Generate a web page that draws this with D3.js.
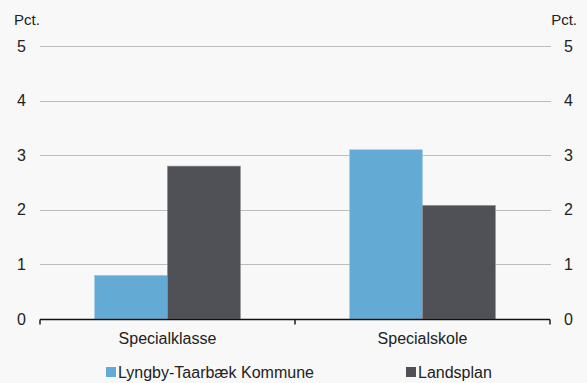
<!DOCTYPE html>
<html><head><meta charset="utf-8">
<script src="https://cdn.jsdelivr.net/npm/d3@7"></script>
<style>html,body{margin:0;padding:0;background:#f7f8f7;}svg{display:block;font-family:"Liberation Sans",Arial,sans-serif;}</style>
</head><body>
<svg id="c" width="587" height="383"></svg>
<script>
const categories = ["Specialklasse", "Specialskole"];
const seriesNames = ["Lyngby-Taarbæk Kommune", "Landsplan"];
const lyngby = [0.8, 3.1];
const landsplan = [2.8, 2.08];
const yTicks = [0, 1, 2, 3, 4, 5];
const unitLabel = "Pct.";
const colors = ["#63aad5", "#505156"];
const strokes = ["#9ccbe6", "#8a8b8f"];

const svg = d3.select("#c");
const m = {l: 40, r: 37, t: 46, b: 64};
const W = 587, H = 383;
const FS = 16;
const x = d3.scaleBand().domain(categories).range([m.l, W - m.r]).paddingInner(0).paddingOuter(0);
const xs = d3.scaleBand().domain(seriesNames).range([0, x.bandwidth()]).paddingInner(0).paddingOuter(0.75);
const y = d3.scaleLinear().domain([0, 5]).range([H - m.b, m.t]);

// gridlines
svg.append("g").selectAll("line").data(yTicks.filter(d => d > 0)).join("line")
  .attr("x1", m.l).attr("x2", W - m.r + 1)
  .attr("y1", d => Math.round(y(d)) + 0.5).attr("y2", d => Math.round(y(d)) + 0.5)
  .attr("stroke", "#bcbcbc").attr("stroke-width", 1);

// bars
const data = [lyngby, landsplan];
data.forEach((vals, si) => {
  svg.append("g").selectAll("rect").data(categories).join("rect")
    .attr("x", (c) => x(c) + xs(seriesNames[si]))
    .attr("width", xs.bandwidth())
    .attr("y", (c, i) => y(vals[i]))
    .attr("height", (c, i) => y(0) - y(vals[i]))
    .attr("fill", colors[si]).attr("stroke", strokes[si]).attr("stroke-width", 0.6);
});

// x axis
const xAxis = svg.append("g").attr("transform", `translate(0,${Math.round(y(0)) + 0.5})`);
xAxis.append("line").attr("x1", m.l).attr("x2", W - m.r).attr("stroke", "#111").attr("stroke-width", 1.6);
const xTickPos = [m.l, ...categories.map(c => x(c) + x.bandwidth())];
xAxis.selectAll("line.t").data(xTickPos).join("line").attr("class", "t")
  .attr("x1", d => d).attr("x2", d => d).attr("y1", 0).attr("y2", 5)
  .attr("stroke", "#111").attr("stroke-width", 1.4);
xAxis.selectAll("text").data(categories).join("text")
  .attr("x", c => x(c) + x.bandwidth() / 2).attr("y", 24)
  .attr("text-anchor", "middle").attr("font-size", FS).attr("fill", "#222").text(c => c);

// y axes (left & right)
const leftAxis = d3.axisLeft(y).tickValues(yTicks).tickSize(0).tickPadding(0).tickFormat(d3.format("d"));
const gl = svg.append("g").attr("transform", `translate(26,0)`).call(leftAxis);
gl.select(".domain").remove();
gl.selectAll("text").attr("font-size", FS).attr("fill", "#222").attr("font-family", "Liberation Sans, Arial, sans-serif");
const rightAxis = d3.axisRight(y).tickValues(yTicks).tickSize(0).tickPadding(0).tickFormat(d3.format("d"));
const gr = svg.append("g").attr("transform", `translate(564,0)`).call(rightAxis);
gr.select(".domain").remove();
gr.selectAll("text").attr("font-size", FS).attr("fill", "#222").attr("font-family", "Liberation Sans, Arial, sans-serif");

// unit labels
svg.append("text").attr("x", 14).attr("y", 25).attr("font-size", 15).attr("fill", "#222").text(unitLabel);
svg.append("text").attr("x", 577).attr("y", 25).attr("text-anchor", "end").attr("font-size", 15).attr("fill", "#222").text(unitLabel);

// legend
const legendX = [106, 406];
const lg = svg.append("g").selectAll("g").data(seriesNames).join("g")
  .attr("transform", (d, i) => `translate(${legendX[i]},367)`);
lg.append("rect").attr("width", 10).attr("height", 10).attr("fill", (d, i) => colors[i]);
lg.append("text").attr("x", 12).attr("y", 11).attr("font-size", FS).attr("fill", "#222").text(d => d);
</script>
</body></html>
